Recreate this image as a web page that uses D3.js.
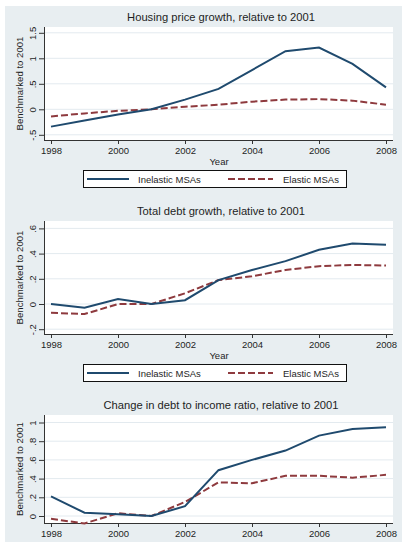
<!DOCTYPE html>
<html>
<head>
<meta charset="utf-8">
<script src="https://cdn.jsdelivr.net/npm/d3@7"></script>
<style>
  html, body { margin: 0; padding: 0; background: #ffffff; }
  svg { display: block; }
  text { font-family: "Liberation Sans", Arial, sans-serif; fill: #1e1e1e; }
</style>
</head>
<body>
<svg id="chart" width="402" height="542"></svg>
<script>
// Years on the x axis
const years = [1998, 1999, 2000, 2001, 2002, 2003, 2004, 2005, 2006, 2007, 2008];
const xTicks = [1998, 2000, 2002, 2004, 2006, 2008];

// Housing price growth, relative to 2001
const housingInelastic = [-0.34, -0.22, -0.10, 0.00, 0.19, 0.40, 0.77, 1.14, 1.21, 0.89, 0.43];
const housingElastic   = [-0.14, -0.08, -0.03, 0.00, 0.05, 0.09, 0.15, 0.19, 0.20, 0.17, 0.09];
const housingTicks = [-0.5, 0, 0.5, 1, 1.5];
const housingTickLabels = ["-.5", "0", ".5", "1", "1.5"];

// Total debt growth, relative to 2001
const debtInelastic = [0.00, -0.03, 0.04, 0.00, 0.03, 0.19, 0.27, 0.34, 0.43, 0.48, 0.47];
const debtElastic   = [-0.07, -0.08, 0.00, 0.00, 0.085, 0.19, 0.22, 0.27, 0.30, 0.31, 0.305];
const debtTicks = [-0.2, 0, 0.2, 0.4, 0.6];
const debtTickLabels = ["-.2", "0", ".2", ".4", ".6"];

// Change in debt to income ratio, relative to 2001
const dtiInelastic = [0.21, 0.035, 0.02, 0.00, 0.105, 0.49, 0.60, 0.70, 0.86, 0.93, 0.95];
const dtiElastic   = [-0.03, -0.08, 0.03, 0.00, 0.15, 0.36, 0.35, 0.43, 0.43, 0.41, 0.44];
const dtiTicks = [0, 0.2, 0.4, 0.6, 0.8, 1];
const dtiTickLabels = ["0", ".2", ".4", ".6", ".8", "1"];

const seriesNames = ["Inelastic MSAs", "Elastic MSAs"];
const titles = [
  "Housing price growth, relative to 2001",
  "Total debt growth, relative to 2001",
  "Change in debt to income ratio, relative to 2001"
];

const colInelastic = "#1f4a6e";
const colElastic = "#8e3a3e";

const svg = d3.select("#chart");

// graph region background
svg.append("rect").attr("x", 5).attr("y", 6).attr("width", 397).attr("height", 536)
  .attr("fill", "#e8eef1");

// shared x scale
const x = d3.scaleLinear().domain([1998, 2008]).range([51, 386]);

// the last panel runs past the bottom edge, so its axis title and legend are not drawn
const panels = [
  { title: titles[0], a: housingInelastic, b: housingElastic, ticks: housingTicks, labels: housingTickLabels,
    top: 27, bottom: 140, domain: [-0.5, 1.5], range: [134.8, 32.8], footer: true },
  { title: titles[1], a: debtInelastic, b: debtElastic, ticks: debtTicks, labels: debtTickLabels,
    top: 221, bottom: 334, domain: [-0.2, 0.6], range: [329.2, 228.4], footer: true },
  { title: titles[2], a: dtiInelastic, b: dtiElastic, ticks: dtiTicks, labels: dtiTickLabels,
    top: 415, bottom: 523, domain: [0, 1], range: [516, 422.5], footer: false }
];

const plotLeft = 44, plotRight = 393;

panels.forEach(p => {
  const g = svg.append("g");
  const y = d3.scaleLinear().domain(p.domain).range(p.range);

  // plot region
  g.append("rect").attr("x", plotLeft).attr("y", p.top)
    .attr("width", plotRight - plotLeft).attr("height", p.bottom - p.top)
    .attr("fill", "#ffffff");

  // horizontal gridlines
  g.selectAll(".grid").data(p.ticks).join("line")
    .attr("x1", plotLeft).attr("x2", plotRight)
    .attr("y1", d => y(d)).attr("y2", d => y(d))
    .attr("stroke", "#e3eaef").attr("stroke-width", 1);

  // title
  g.append("text").attr("x", 221).attr("y", p.top - 6)
    .attr("text-anchor", "middle").attr("font-size", 11.2).attr("fill", "#2a2a2a")
    .text(p.title);

  // y axis
  const yAxis = d3.axisLeft(y).tickValues(p.ticks)
    .tickFormat((d, i) => p.labels[i]).tickSize(5).tickSizeOuter(0);
  const ya = g.append("g").attr("transform", `translate(${plotLeft},0)`).call(yAxis);
  ya.select(".domain").attr("d", `M0.5,${p.top}V${p.bottom}`).attr("stroke", "#333");
  ya.selectAll(".tick line").attr("stroke", "#333");
  ya.selectAll(".tick text")
    .attr("font-size", 9.5).attr("font-family", null).attr("fill", "#2a2a2a")
    .attr("x", null).attr("dy", null)
    .attr("transform", "translate(-8,0) rotate(-90)")
    .attr("text-anchor", "middle").attr("y", 0);

  // y axis title
  g.append("text")
    .attr("transform", `translate(23,${(p.top + p.bottom) / 2}) rotate(-90)`)
    .attr("text-anchor", "middle").attr("font-size", 9.6).attr("fill", "#2a2a2a")
    .text("Benchmarked to 2001");

  // x axis
  const xAxis = d3.axisBottom(x).tickValues(xTicks).tickFormat(d3.format("d"))
    .tickSize(4).tickSizeOuter(0);
  const xa = g.append("g").attr("transform", `translate(0,${p.bottom})`).call(xAxis);
  xa.select(".domain").attr("d", `M${plotLeft},0.5H${plotRight}`).attr("stroke", "#333");
  xa.selectAll(".tick line").attr("stroke", "#333");
  xa.selectAll(".tick text").attr("font-size", 9.5).attr("font-family", null)
    .attr("fill", "#2a2a2a").attr("y", 7);

  // series lines
  const line = d3.line().x((d, i) => x(years[i])).y(d => y(d));
  g.append("path").datum(p.b).attr("d", line).attr("fill", "none")
    .attr("stroke", colElastic).attr("stroke-width", 2).attr("stroke-dasharray", "7,3");
  g.append("path").datum(p.a).attr("d", line).attr("fill", "none")
    .attr("stroke", colInelastic).attr("stroke-width", 2);

  if (p.footer) {
    // x axis title
    g.append("text").attr("x", 219).attr("y", p.bottom + 25)
      .attr("text-anchor", "middle").attr("font-size", 9.5).attr("fill", "#2a2a2a").text("Year");

    // legend
    const ly = p.bottom + 30;
    const lg = g.append("g").attr("transform", `translate(83,${ly})`);
    lg.append("rect").attr("x", 0.5).attr("y", 0.5).attr("width", 263).attr("height", 17)
      .attr("fill", "#ffffff").attr("stroke", "#111").attr("stroke-width", 1);
    lg.append("line").attr("x1", 4).attr("x2", 46).attr("y1", 9).attr("y2", 9)
      .attr("stroke", colInelastic).attr("stroke-width", 2);
    lg.append("text").attr("x", 55).attr("y", 12.5).attr("font-size", 9.5).text(seriesNames[0]);
    lg.append("line").attr("x1", 145).attr("x2", 190).attr("y1", 9).attr("y2", 9)
      .attr("stroke", colElastic).attr("stroke-width", 2).attr("stroke-dasharray", "7,3");
    lg.append("text").attr("x", 200).attr("y", 12.5).attr("font-size", 9.5).text(seriesNames[1]);
  }
});
</script>
</body>
</html>
